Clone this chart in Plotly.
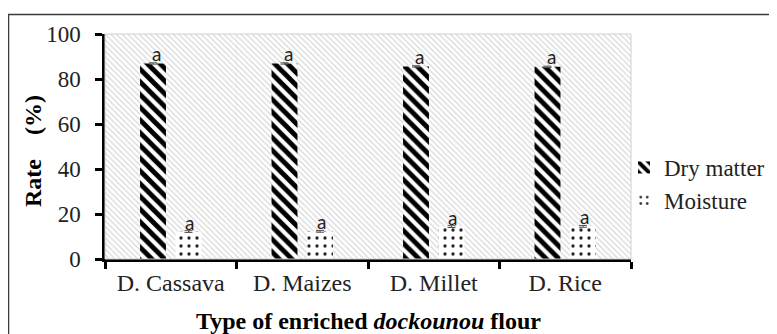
import plotly.graph_objects as go

categories = ["D. Cassava", "D. Maizes", "D. Millet", "D. Rice"]
dry_matter = [86.9, 86.9, 85.6, 85.4]
dry_err = [0.3, 0.3, 0.3, 0.3]
moisture = [12.2, 12.3, 14.4, 14.5]
moist_err = [0.4, 0.4, 0.4, 0.4]
dry_letters = ["a", "a", "a", "a"]
moist_letters = ["a", "a", "a", "a"]
y_range = [0, 100]
y_ticks = [0, 20, 40, 60, 80, 100]

# page has an 8px body margin: build the figure 8px smaller and shift targets
OFF = 8
W, H = 777 - OFF, 334 - OFF
# target plot area in page pixels: x 105..631, y 34..259
L, T = 105 - OFF, 34 - OFF
R = W - (631 - OFF)
B = H - (259 - OFF)
pw, ph = W - L - R, H - T - B

def px_x(p):
    return (p - OFF - L) / pw

def px_y(p):
    return (H - B - (p - OFF)) / ph

serif = "Liberation Serif"
fig = go.Figure()

# hatched plot background (base subplot)
fig.add_trace(go.Bar(
    x=categories, y=[y_range[1]] * len(categories), width=[1] * len(categories),
    marker=dict(color="white", line=dict(width=0),
                pattern=dict(shape="\\", fgcolor="#b0b0b0", bgcolor="white", size=4, solidity=0.3)),
    showlegend=False, hoverinfo="skip", xaxis="x", yaxis="y"))

fig.add_trace(go.Bar(
    name="Dry matter", x=categories, y=dry_matter,
    error_y=dict(type="data", array=dry_err, color="#555555", thickness=1, width=4),
    marker=dict(color="white", line=dict(width=0),
                pattern=dict(shape="\\", fgcolor="black", bgcolor="white", size=9, solidity=0.55,
                             fgopacity=1)),
    xaxis="x2", yaxis="y2", legendgroup="d"))

fig.add_trace(go.Bar(
    name="Moisture", x=categories, y=moisture,
    error_y=dict(type="data", array=moist_err, color="#555555", thickness=1, width=4),
    marker=dict(color="white", line=dict(width=0),
                pattern=dict(shape=".", fgcolor="#222222", bgcolor="white", size=8, solidity=0.13,
                             fgopacity=1)),
    xaxis="x2", yaxis="y2", legendgroup="m"))

annotations = []
for c, v, e, t in zip(categories, dry_matter, dry_err, dry_letters):
    annotations.append(dict(x=c, y=v + e, xref="x2", yref="y2", text=t, showarrow=False,
                            xshift=-14, yshift=-4, yanchor="bottom", xanchor="center",
                            font=dict(family="Lato", size=19, color="#222")))
for c, v, e, t in zip(categories, moisture, moist_err, moist_letters):
    annotations.append(dict(x=c, y=v + e, xref="x2", yref="y2", text=t, showarrow=False,
                            xshift=19, yshift=-5, yanchor="bottom", xanchor="center",
                            font=dict(family="Lato", size=19, color="#222")))

annotations.append(dict(xref="paper", yref="paper", x=0.5, y=px_y(321), yanchor="middle",
                        xanchor="center",
                        text="<b>Type of enriched <i>dockounou</i> flour</b>", showarrow=False,
                        font=dict(family=serif, size=24, color="black")))
annotations.append(dict(xref="paper", yref="paper", x=px_x(33), y=px_y(151), textangle=-90,
                        xanchor="center", yanchor="middle",
                        text="<b>Rate\u00a0\u00a0\u00a0\u00a0(%)</b>", showarrow=False,
                        font=dict(family=serif, size=24, color="black")))

shapes = [
    dict(type="rect", xref="paper", yref="paper", x0=0, x1=1, y0=0, y1=1,
         line=dict(color="#d0d0d0", width=1), layer="above"),
    dict(type="rect", xref="paper", yref="paper", x0=px_x(8.5), x1=px_x(800), y0=px_y(14.5), y1=px_y(360),
         line=dict(color="#3a3a3a", width=1.5)),
]

fig.update_layout(
    width=W, height=H, margin=dict(l=L, r=R, t=T, b=B, autoexpand=False),
    paper_bgcolor="white", plot_bgcolor="white",
    barmode="group", bargap=0.46, bargroupgap=0.27,
    font=dict(family=serif, size=24, color="black"),
    xaxis=dict(type="category", range=[-0.5, len(categories) - 0.5], tickson="boundaries",
               ticks="outside", ticklen=7, tickwidth=2.5, tickcolor="black",
               showline=True, linewidth=2.5, linecolor="black", showgrid=False,
               tickfont=dict(family=serif, size=24, color="#222")),
    yaxis=dict(range=y_range, tickvals=y_ticks, ticks="outside", ticklen=7, tickwidth=2.5,
               tickcolor="black", showline=True, linewidth=2.5, linecolor="black",
               showgrid=False, zeroline=False, ticklabelstandoff=10,
               tickfont=dict(family=serif, size=23, color="#222")),
    xaxis2=dict(type="category", overlaying="x", range=[-0.5, len(categories) - 0.5],
                tickson="boundaries", showticklabels=False, ticks="", showline=False,
                showgrid=True, gridcolor="#d4d4d4", gridwidth=1),
    yaxis2=dict(overlaying="y", range=y_range, showticklabels=False, ticks="",
                showgrid=False, zeroline=False, showline=False),
    legend=dict(x=px_x(624), xanchor="left", y=px_y(184), yanchor="middle",
                bgcolor="rgba(0,0,0,0)", font=dict(family=serif, size=23, color="#222"),
                itemwidth=30, tracegroupgap=0),
    annotations=annotations, shapes=shapes,
)

fig.write_html("out.html")
